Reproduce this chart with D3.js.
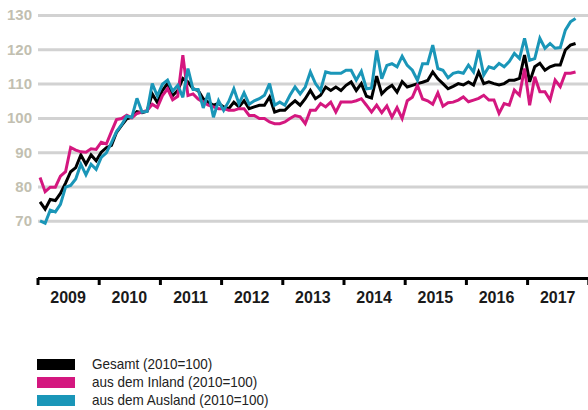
<!DOCTYPE html>
<html>
<head>
<meta charset="utf-8">
<script src="https://cdn.jsdelivr.net/npm/d3@7"></script>
<style>
  html, body { margin: 0; padding: 0; background: #fff; }
  svg { display: block; font-family: "Liberation Sans", Arial, sans-serif; }
</style>
</head>
<body>
<svg id="chart" width="588" height="410"></svg>
<script>
// ---- Data (monthly, Jan 2009 – Oct 2017, index 2010 = 100) ----
const startYear = 2009;
const years = [2009, 2010, 2011, 2012, 2013, 2014, 2015, 2016, 2017];
const yTicks = [70, 80, 90, 100, 110, 120, 130];

const gesamt = [
  75.5, 73.4, 76.2, 75.9, 78.0, 81.0, 84.3, 85.5, 89.2, 86.5, 89.2, 87.5,
  90.0, 91.3, 92.0, 95.8, 97.8, 99.7, 100.2, 101.8, 101.5, 102.0, 107.0, 104.5,
  108.0, 110.0, 106.5, 108.0, 111.5, 110.5, 108.5, 108.0, 105.6, 104.6, 103.7, 104.2,
  103.2, 102.7, 104.6, 103.2, 105.0, 102.7, 103.2, 103.7, 103.7, 106.1, 101.7, 102.2,
  102.2, 103.7, 105.0, 103.7, 105.6, 108.0, 105.6, 106.6, 109.0, 108.0, 109.0, 108.0,
  109.5, 110.5, 108.0, 110.0, 106.3, 105.8, 112.2, 107.0, 108.5, 109.5, 107.5, 110.6,
  109.0, 109.5, 110.0, 110.4, 110.9, 113.4, 111.4, 110.0, 108.5, 109.2, 110.0, 109.6,
  110.5, 109.6, 113.4, 110.0, 110.5, 110.0, 109.6, 110.0, 111.0, 111.0, 111.5, 118.3,
  110.5, 114.9, 115.9, 113.9, 114.9, 115.4, 115.4, 119.8, 121.2, 121.7
];
const inland = [
  82.6, 78.5, 79.8, 79.8, 83.0, 84.3, 91.4, 90.6, 90.1, 90.0, 91.0, 90.8,
  92.9, 92.4, 96.0, 99.5, 99.8, 100.8, 100.0, 101.3, 101.7, 102.2, 104.0, 103.0,
  106.5, 108.5, 105.3, 106.3, 118.3, 106.5, 107.0, 105.5, 104.6, 103.7, 103.2, 102.7,
  102.7, 102.2, 102.2, 102.7, 102.7, 100.7, 100.7, 99.8, 99.8, 98.8, 98.3, 98.3,
  98.8, 99.8, 100.7, 100.3, 98.3, 102.2, 102.2, 104.2, 103.2, 104.6, 101.7, 104.6,
  104.6, 104.6, 105.0, 105.6, 103.7, 101.7, 103.7, 101.5, 103.5, 100.2, 103.0, 99.8,
  105.0, 106.0, 109.5, 105.5, 105.0, 104.0, 107.3, 103.4, 104.4, 104.6, 105.2, 106.1,
  104.7, 105.2, 105.7, 106.6, 105.2, 105.2, 101.3, 104.2, 103.7, 108.1, 106.6, 114.4,
  103.7, 112.0, 107.6, 107.6, 105.2, 111.0, 109.1, 113.0, 113.0, 113.4
];
const ausland = [
  70.0, 69.3, 73.1, 72.6, 74.8, 79.8, 80.3, 82.2, 86.5, 83.4, 86.5, 85.0,
  88.5, 89.8, 92.8, 96.0, 98.0, 100.5, 100.2, 105.7, 101.7, 101.9, 110.0, 106.4,
  109.8, 111.0, 107.8, 109.5, 106.0, 114.4, 108.3, 108.3, 102.9, 107.3, 100.2, 105.0,
  102.2, 104.8, 108.5, 104.1, 107.3, 104.0, 105.0, 105.6, 106.6, 110.0, 103.7, 104.6,
  103.7, 106.6, 109.0, 107.0, 109.0, 113.4, 110.0, 108.0, 113.4, 113.0, 113.0, 113.0,
  113.9, 113.9, 111.0, 113.6, 108.5, 108.7, 119.7, 111.4, 115.3, 115.8, 114.9, 118.0,
  115.3, 113.9, 111.0, 115.8, 115.8, 121.2, 114.4, 113.9, 111.7, 113.0, 113.4, 113.0,
  115.4, 113.4, 119.8, 112.5, 114.9, 114.4, 115.9, 114.9, 116.4, 118.8, 117.3, 123.2,
  116.8, 117.3, 123.2, 120.3, 121.7, 120.3, 120.5, 125.6, 128.0, 129.0
];

const seriesNames = ["Gesamt (2010=100)", "aus dem Inland (2010=100)", "aus dem Ausland (2010=100)"];
const seriesColors = ["#000000", "#d4177f", "#1a96b8"];
const seriesData = [gesamt, inland, ausland];

// ---- Chart ----
const svg = d3.select("#chart");

const x = d3.scaleLinear().domain([2009, 2018]).range([37.5, 588.3]);
const y = d3.scaleLinear().domain([70, 130]).range([220.8, 15]);

// Gridlines + y labels
const yAxis = d3.axisLeft(y)
  .tickValues(yTicks)
  .tickSize(-(588 - 38))
  .tickPadding(6)
  .tickFormat(d3.format("d"));

const gy = svg.append("g").attr("transform", "translate(38,0)").call(yAxis);
gy.select(".domain").remove();
gy.selectAll(".tick line").attr("stroke", "#d2d2d2").attr("stroke-width", 3);
gy.selectAll(".tick text")
  .attr("fill", "#c2bfb1")
  .attr("font-size", 15)
  .attr("font-weight", "bold")
  .attr("font-family", "\"Liberation Sans\", Arial, sans-serif");

// X axis
const axisY = 278;
const xAxis = d3.axisBottom(x)
  .tickValues(d3.range(2009, 2019))
  .tickSize(7)
  .tickSizeOuter(0)
  .tickFormat("");
const gx = svg.append("g").attr("transform", `translate(0,${axisY})`).call(xAxis);
gx.select(".domain").attr("stroke", "#000").attr("stroke-width", 3);
gx.selectAll(".tick line").attr("stroke", "#000").attr("stroke-width", 3);

svg.append("g").selectAll("text")
  .data(years)
  .join("text")
  .attr("x", d => x(d + 0.5))
  .attr("y", 303)
  .attr("text-anchor", "middle")
  .attr("font-size", 16)
  .attr("font-weight", "bold")
  .attr("fill", "#1a1a1a")
  .text(d => d);

// Lines
const line = d3.line()
  .x((d, i) => x(startYear + (i + 0.5) / 12))
  .y(d => y(d));

svg.append("g").selectAll("path")
  .data(seriesData)
  .join("path")
  .attr("d", d => line(d))
  .attr("fill", "none")
  .attr("stroke", (d, i) => seriesColors[i])
  .attr("stroke-width", 3)
  .attr("stroke-linejoin", "miter")
  .attr("stroke-miterlimit", 3);

// Legend
const legend = svg.append("g");
const rowY = [359, 377, 395];
seriesNames.forEach((name, i) => {
  legend.append("rect")
    .attr("x", 37).attr("y", rowY[i])
    .attr("width", 38).attr("height", 11)
    .attr("fill", seriesColors[i]);
  legend.append("text")
    .attr("transform", `translate(92,${rowY[i] + 9.5}) scale(0.9,1)`)
    .attr("font-size", 15)
    .attr("fill", "#222")
    .text(name);
});
</script>
</body>
</html>
